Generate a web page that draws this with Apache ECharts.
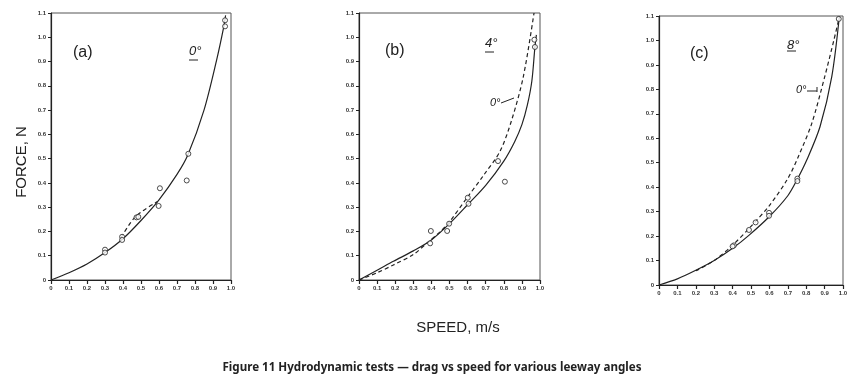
<!DOCTYPE html>
<html>
<head>
<meta charset="utf-8">
<script src="https://cdn.jsdelivr.net/npm/echarts@6/dist/echarts.min.js"></script>
<style>html,body{margin:0;padding:0;background:#fff;}#c{width:866px;height:391px;}</style>
</head>
<body>
<div id="c"></div>
<script>
// ---- data (speed m/s, force N) ----
const xTicks = ['0','0.1','0.2','0.3','0.4','0.5','0.6','0.7','0.8','0.9','1.0'];
const yTicks = ['0','0.1','0.2','0.3','0.4','0.5','0.6','0.7','0.8','0.9','1.0','1.1'];

const solidA = [[0,0],[0.1,0.03],[0.2,0.066],[0.3,0.113],[0.4,0.17],[0.5,0.245],[0.6,0.33],[0.7,0.435],[0.76,0.515],[0.85,0.70],[0.92,0.906],[0.96,1.044],[0.97,1.09]];
const dashA = [[0.39,0.175],[0.47,0.262],[0.59,0.322]];
const pointsA = [[0.30,0.125],[0.30,0.113],[0.395,0.178],[0.395,0.165],[0.475,0.258],[0.485,0.26],[0.605,0.378],[0.598,0.305],[0.763,0.52],[0.754,0.41],[0.967,1.07],[0.967,1.045]];

const solidB = [[0,0],[0.1,0.04],[0.19,0.077],[0.3,0.12],[0.4,0.165],[0.5,0.232],[0.6,0.31],[0.7,0.39],[0.8,0.49],[0.86,0.57],[0.9,0.64],[0.93,0.72],[0.955,0.82],[0.972,0.96],[0.98,1.01]];
const dashB = [[0,0],[0.1,0.03],[0.19,0.062],[0.3,0.105],[0.374,0.151],[0.45,0.2],[0.5,0.24],[0.595,0.337],[0.687,0.43],[0.779,0.53],[0.844,0.66],[0.908,0.838],[0.967,1.1]];
const pointsB = [[0.397,0.202],[0.393,0.151],[0.487,0.202],[0.498,0.232],[0.601,0.339],[0.605,0.314],[0.768,0.49],[0.806,0.405],[0.969,0.99],[0.972,0.96]];

const solidC = [[0,0],[0.1,0.025],[0.2,0.06],[0.3,0.1],[0.4,0.15],[0.49,0.204],[0.6,0.28],[0.7,0.365],[0.75,0.43],[0.803,0.511],[0.875,0.647],[0.939,0.852],[0.98,1.097]];
const dashC = [[0.2,0.058],[0.3,0.1],[0.4,0.163],[0.5,0.24],[0.6,0.325],[0.7,0.435],[0.76,0.53],[0.83,0.66],[0.9,0.85],[0.95,1.0],[0.975,1.08]];
const pointsC = [[0.407,0.162],[0.4,0.158],[0.489,0.225],[0.525,0.256],[0.598,0.295],[0.598,0.283],[0.752,0.435],[0.752,0.425],[0.977,1.088]];

const panelLabels = ['(a)','(b)','(c)'];
const angleLabels = ['0°','4°','8°'];
const refLabel = '0°';
const yTitle = 'FORCE, N';
const xTitle = 'SPEED, m/s';
const caption = 'Figure 11 Hydrodynamic tests \u2014 drag vs speed for various leeway angles';

// ---- layout ----
const grids = [
  {left:51, top:13, width:180, height:267},
  {left:359, top:13, width:181, height:267},
  {left:659, top:16, width:184, height:269}
];
const ink = '#222';
const tickFont = {fontSize:6, fontWeight:'bold', color:'#333', fontFamily:'Liberation Sans'};

const xAxes = grids.map((g,i)=>({
  type:'value', gridIndex:i, min:0, max:1, interval:0.1,
  axisLine:{show:true, lineStyle:{color:ink, width:1.2}},
  axisTick:{show:true, inside:false, length:4, lineStyle:{color:ink, width:1.2}},
  axisLabel:Object.assign({margin:5, formatter:(v)=>xTicks[Math.round(v*10)]}, tickFont),
  splitLine:{show:false}
}));
const yAxes = grids.map((g,i)=>({
  type:'value', gridIndex:i, min:0, max:1.1, interval:0.1,
  axisLine:{show:true, lineStyle:{color:ink, width:1.2}},
  axisTick:{show:true, inside:false, length:3, lineStyle:{color:ink, width:1}},
  axisLabel:Object.assign({margin:5, formatter:(v)=>yTicks[Math.round(v*10)]}, tickFont),
  splitLine:{show:false}
}));

function lineSeries(data, i, dashed){
  return {type:'line', xAxisIndex:i, yAxisIndex:i, data:data, smooth:0.3, symbol:'none',
    lineStyle:{color:ink, width:1.2, type: dashed ? [4,3] : 'solid'}, z:2, silent:true};
}
function pointSeries(data, i){
  return {type:'scatter', xAxisIndex:i, yAxisIndex:i, data:data, symbol:'circle', symbolSize:5,
    itemStyle:{color:'#fff', borderColor:ink, borderWidth:1}, z:3, silent:true};
}

const series = [
  lineSeries(solidA,0,false), lineSeries(dashA,0,true), pointSeries(pointsA,0),
  lineSeries(solidB,1,false), lineSeries(dashB,1,true), pointSeries(pointsB,1),
  lineSeries(solidC,2,false), lineSeries(dashC,2,true), pointSeries(pointsC,2)
];

const txt = (x,y,text,size,extra)=>({type:'text', left:x, top:y, style:Object.assign({text:text, fontSize:size, fill:ink, fontFamily:'Liberation Sans'}, extra||{})});
const ln = (x1,y1,x2,y2,w)=>({type:'line', shape:{x1:x1,y1:y1,x2:x2,y2:y2}, style:{stroke:ink, lineWidth:w||1}});

const graphic = [
  // panel labels
  txt(73,45,panelLabels[0],16),
  txt(385,43,panelLabels[1],16),
  txt(690,46,panelLabels[2],16),
  // angle labels (underlined)
  txt(189,45,angleLabels[0],13,{fontStyle:'italic'}), ln(189,60,198,60,1),
  txt(485,37,angleLabels[1],13,{fontStyle:'italic'}), ln(485,52,494,52,1),
  txt(787,39,angleLabels[2],13,{fontStyle:'italic'}), ln(787,51,796,51,1),
  // 0-degree reference labels with leaders
  txt(490,97,refLabel,11,{fontStyle:'italic'}), ln(501,103,514,98,1),
  txt(796,84,refLabel,11,{fontStyle:'italic'}), ln(807,91,817,91,1), ln(817,87,817,92,1),
  // axis titles
  {type:'text', x:22, y:162, rotation:Math.PI/2, style:{text:yTitle, fontSize:15, fill:ink, fontFamily:'Liberation Sans', textAlign:'center', textVerticalAlign:'middle'}},
  {type:'text', x:458, y:328, style:{text:xTitle, fontSize:15, fill:ink, fontFamily:'Liberation Sans', textAlign:'center', textVerticalAlign:'middle'}},
  {type:'text', x:432, y:368, style:{text:caption, fontSize:11.6, fontWeight:'bold', fill:ink, fontFamily:'Noto Sans', textAlign:'center', textVerticalAlign:'middle'}}
];

const chart = echarts.init(document.getElementById('c'), null, {renderer:'canvas'});
chart.setOption({
  animation:false,
  backgroundColor:'#fff',
  grid: grids.map(g=>Object.assign({show:true, borderColor:'#555', borderWidth:1, backgroundColor:'transparent'}, g)),
  xAxis:xAxes, yAxis:yAxes, series:series, graphic:graphic
});
</script>
</body>
</html>
